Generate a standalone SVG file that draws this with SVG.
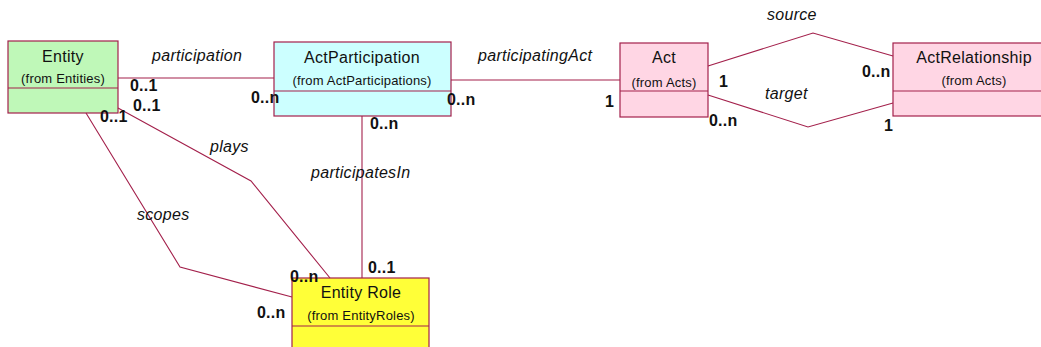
<svg xmlns="http://www.w3.org/2000/svg" width="1041" height="347" viewBox="0 0 1041 347">
  <style>
    .box { stroke: #a3204b; stroke-width: 1.2; }
    .div { stroke: #a3204b; stroke-width: 1.2; }
    .ln { fill: none; stroke: #a3204b; stroke-width: 1.1; }
    .name { font-family: "Liberation Sans", Arial, sans-serif; font-size: 16px; letter-spacing: 0.3px; fill: #111; text-anchor: middle; }
    .from { font-family: "Liberation Sans", Arial, sans-serif; font-size: 13px; letter-spacing: 0.2px; fill: #111; text-anchor: middle; }
    .role { font-family: "Liberation Sans", Arial, sans-serif; font-size: 16px; font-style: italic; letter-spacing: 0.3px; fill: #111; }
    .mult { font-family: "Liberation Sans", Arial, sans-serif; font-size: 16px; font-weight: bold; letter-spacing: 0.2px; fill: #111; }
  </style>

  <g id="entity">
    <rect class="box" x="8" y="41" width="110" height="72" fill="#bff8b8"/>
    <line class="div" x1="8" y1="88" x2="118" y2="88"/>
    <text class="name" x="63" y="62">Entity</text>
    <text class="from" x="63" y="83">(from Entities)</text>
  </g>

  <g id="actParticipation">
    <rect class="box" x="274" y="42" width="177" height="74" fill="#ccffff"/>
    <line class="div" x1="274" y1="91" x2="451" y2="91"/>
    <text class="name" x="362" y="63">ActParticipation</text>
    <text class="from" x="362" y="85">(from ActParticipations)</text>
  </g>

  <g id="act">
    <rect class="box" x="620" y="43" width="88" height="74" fill="#ffd6e4"/>
    <line class="div" x1="620" y1="91" x2="708" y2="91"/>
    <text class="name" x="664" y="63">Act</text>
    <text class="from" x="664" y="87">(from Acts)</text>
  </g>

  <g id="actRelationship">
    <rect class="box" x="893" y="43" width="162" height="73" fill="#ffd6e4"/>
    <line class="div" x1="893" y1="91" x2="1055" y2="91"/>
    <text class="name" x="974" y="63">ActRelationship</text>
    <text class="from" x="974" y="85">(from Acts)</text>
  </g>

  <g id="entityRole">
    <rect class="box" x="292" y="278" width="137" height="80" fill="#ffff38"/>
    <line class="div" x1="292" y1="326" x2="429" y2="326"/>
    <text class="name" x="361" y="298">Entity Role</text>
    <text class="from" x="361" y="320">(from EntityRoles)</text>
  </g>

  <!-- associations, with role names and multiplicities -->
  <g id="connectors">
    <polyline class="ln" points="118,78 274,78"/>
    <polyline class="ln" points="451,80 620,80"/>
    <polyline class="ln" points="708,66 813,33 893,56"/>
    <polyline class="ln" points="708,95 808,127 893,103"/>
    <polyline class="ln" points="362,116 362,278"/>
    <polyline class="ln" points="118,108 251,181 330,278"/>
    <polyline class="ln" points="86,113 180,267 292,297"/>

    <text class="role" x="152" y="61">participation</text>
    <text class="role" x="478" y="61">participatingAct</text>
    <text class="role" x="767" y="20">source</text>
    <text class="role" x="765" y="99">target</text>
    <text class="role" x="311" y="178">participatesIn</text>
    <text class="role" x="210" y="152">plays</text>
    <text class="role" x="137" y="220">scopes</text>

    <text class="mult" x="130" y="91">0..1</text>
    <text class="mult" x="133" y="111">0..1</text>
    <text class="mult" x="100" y="122">0..1</text>
    <text class="mult" x="251" y="103">0..n</text>
    <text class="mult" x="447" y="105">0..n</text>
    <text class="mult" x="370" y="129">0..n</text>
    <text class="mult" x="605" y="107">1</text>
    <text class="mult" x="719" y="87">1</text>
    <text class="mult" x="709" y="126">0..n</text>
    <text class="mult" x="862" y="77">0..n</text>
    <text class="mult" x="884" y="131">1</text>
    <text class="mult" x="368" y="273">0..1</text>
    <text class="mult" x="290" y="282">0..n</text>
    <text class="mult" x="257" y="318">0..n</text>
  </g>
</svg>
